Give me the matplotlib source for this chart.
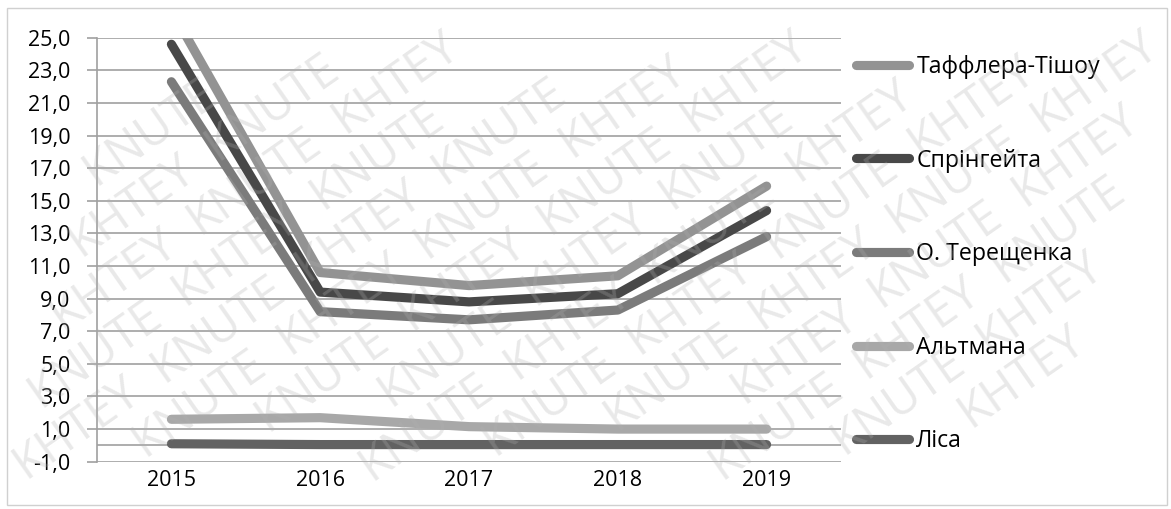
import numpy as np
import matplotlib
matplotlib.use("Agg")
import matplotlib.pyplot as plt
from matplotlib.patches import Rectangle

plt.rcParams['font.family'] = ['Open Sans', 'DejaVu Sans']

years = ['2015', '2016', '2017', '2018', '2019']
taffler = [26.7, 10.6, 9.8, 10.4, 15.9]
springate = [24.6, 9.4, 8.8, 9.3, 14.4]
tereshchenko = [22.3, 8.2, 7.7, 8.3, 12.8]
altman = [1.6, 1.7, 1.15, 1.0, 1.0]
lis = [0.1, 0.05, 0.05, 0.05, 0.05]

names = ['Таффлера-Тішоу', 'Спрінгейта', 'О. Терещенка', 'Альтмана', 'Ліса']
colors = ['#939393', '#484848', '#7b7b7b', '#a8a8a8', '#626262']
series = [taffler, springate, tereshchenko, altman, lis]

yticks = np.arange(-1, 26, 2)

W, H = 1171, 509
fig = plt.figure(figsize=(W / 100, H / 100), dpi=100)
ax = fig.add_axes([97 / W, 1 - 461.7 / H, 744 / W, 424 / H])
ax.set_facecolor('none')

x = np.arange(len(years))
for vals, name, c in zip(series, names, colors):
    ax.plot(x, vals, color=c, lw=6.6, label=name,
            solid_capstyle='round', solid_joinstyle='round', zorder=3)

ax.set_xlim(-0.5, len(years) - 0.5)
ax.set_ylim(-1, 25)
ax.set_yticks(yticks)
ax.set_yticklabels([f'{v:.1f}'.replace('.', ',') for v in yticks], fontsize=15.5)
ax.set_xticks(x)
ax.set_xticklabels(years, fontsize=15.5)
ax.grid(axis='y', color='#a0a0a0', lw=1.2, zorder=1)
ax.axhline(0, color='#a0a0a0', lw=1.2, zorder=1)
for s in ['top', 'right', 'bottom']:
    ax.spines[s].set_visible(False)
ax.spines['left'].set_color('#a0a0a0')
ax.spines['left'].set_linewidth(1.2)
ax.tick_params(axis='y', length=7, color='#a0a0a0', width=1.2, pad=12)
ax.tick_params(axis='x', length=0, pad=6)

leg = ax.legend(loc='upper left', bbox_to_anchor=(856 / W, 1 - 55 / H),
                bbox_transform=fig.transFigure, frameon=False, fontsize=16.7,
                handlelength=2.3, handletextpad=0.3, labelspacing=3.0,
                borderaxespad=0, borderpad=0)
for h in leg.get_lines():
    h.set_solid_capstyle('round')

# outer frame
fig.add_artist(Rectangle((7 / W, 4 / H), 1160 / W, 497 / H,
                         transform=fig.transFigure, fill=False,
                         ec='#d0d0d0', lw=1.0))

# diagonal watermark, one word at a time
ang = np.deg2rad(35)
u = np.array([np.cos(ang), np.sin(ang)])
v = np.array([-np.sin(ang), np.cos(ang)])
words = ['KHTEY', 'KNUTE']
word_gap = 172
row_gap = 50
origin = np.array([W / 2, H / 2])
marks = []
for r in range(-16, 17):
    for k in range(-12, 13):
        p = origin + r * row_gap * v + (k * word_gap + (r % 3) * word_gap / 3) * u
        if -100 < p[0] < W + 100 and -100 < p[1] < H + 100:
            marks.append(fig.text(p[0] / W, p[1] / H, words[(k + r) % 2],
                                  rotation=35, rotation_mode='anchor',
                                  ha='center', va='center', fontsize=34,
                                  color='#b0b0b0', alpha=0.28, zorder=10))

# drop the words that would run off the sheet
fig.canvas.draw()
renderer = fig.canvas.get_renderer()
for t in marks:
    bb = t.get_window_extent(renderer)
    if bb.x0 < 1 or bb.y0 < 1 or bb.x1 > W - 1 or bb.y1 > H - 1:
        t.remove()

fig.savefig('out.png', dpi=100)
